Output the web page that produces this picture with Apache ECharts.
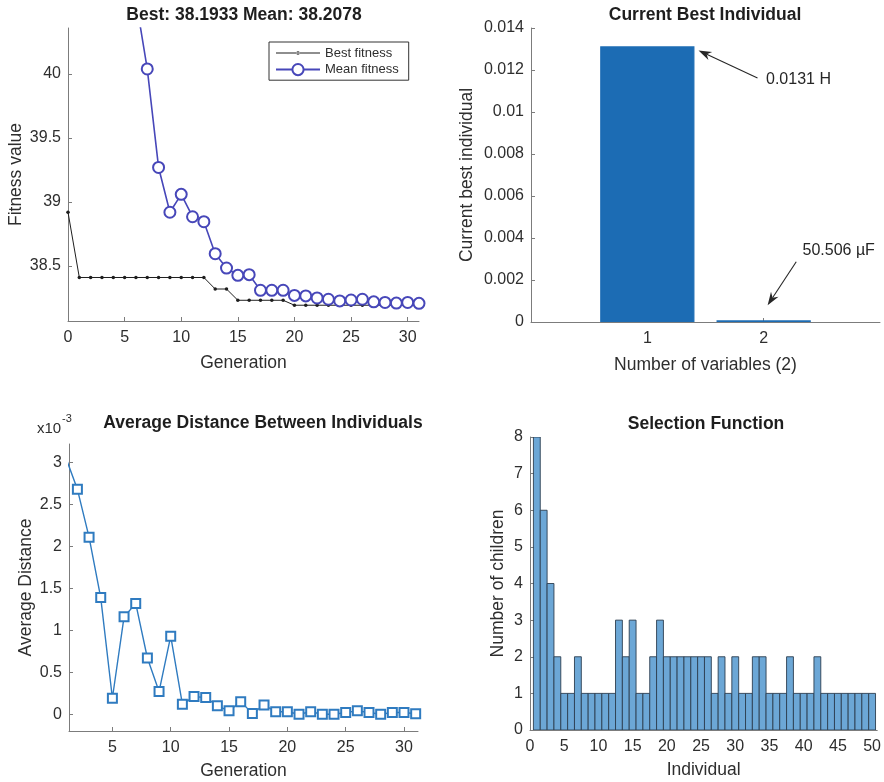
<!DOCTYPE html>
<html>
<head>
<meta charset="utf-8">
<script src="https://cdn.jsdelivr.net/npm/echarts@6/dist/echarts.min.js"></script>
<style>
html,body{margin:0;padding:0;background:#fff;}
#chart{width:884px;height:782px;}
</style>
</head>
<body>
<div id="chart"></div>
<script>
// ---------- data ----------
const generations = [0,1,2,3,4,5,6,7,8,9,10,11,12,13,14,15,16,17,18,19,20,21,22,23,24,25,26,27,28,29,30,31];
const bestFitness = [38.92,38.41,38.41,38.41,38.41,38.41,38.41,38.41,38.41,38.41,38.41,38.41,38.41,38.32,38.32,38.232,38.232,38.232,38.232,38.232,38.1933,38.1933,38.1933,38.1933,38.1933,38.1933,38.1933,38.1933,38.1933,38.1933,38.1933,38.1933];
const meanFitness = [null,null,null,null,null,null,40.58,40.04,39.27,38.92,39.06,38.885,38.846,38.596,38.484,38.427,38.432,38.31,38.31,38.31,38.27,38.266,38.25,38.24,38.227,38.234,38.24,38.22,38.215,38.21,38.215,38.2078];
const fitnessTicks = [38.5,39,39.5,40];
const genTicks = [0,5,10,15,20,25,30];

const variableIndex = [1,2];
const bestIndividual = [0.0131,0.000050506];
const variableTicks = [1,2];
const annotationTexts = ['0.0131 H','50.506 µF'];
const annotationTips = [[1.44,0.01293],[2.034,0.0008]];
const annotationTails = [[1.947,0.01162],[2.28,0.00287]];
const annotationTextPos = [[2.02,0.01153],[2.334,0.00339]];

const distGenerations = [1,2,3,4,5,6,7,8,9,10,11,12,13,14,15,16,17,18,19,20,21,22,23,24,25,26,27,28,29,30,31];
const avgDistance = [0.00306,0.00268,0.00211,0.00139,0.00019,0.00116,0.00132,0.00067,0.00027,0.00093,0.00012,0.00021,0.00020,0.00010,0.00004,0.00015,0.00001,0.00011,0.00003,0.00003,0.0,0.00003,0.0,0.0,0.00002,0.00004,0.00002,0.0,0.00002,0.00002,0.000005];
const distTicksX = [5,10,15,20,25,30];
const distTicksY = [0,0.0005,0.001,0.0015,0.002,0.0025,0.003];

const individuals = [1,2,3,4,5,6,7,8,9,10,11,12,13,14,15,16,17,18,19,20,21,22,23,24,25,26,27,28,29,30,31,32,33,34,35,36,37,38,39,40,41,42,43,44,45,46,47,48,49,50];
const childrenCount = [8,6,4,2,1,1,2,1,1,1, 1,1,3,2,3,1,1,2,3,2, 2,2,2,2,2,2,1,2,1,2, 1,1,2,2,1,1,1,2,1,1, 1,2,1,1,1,1,1,1,1,1];
const individualTicks = [0,5,10,15,20,25,30,35,40,45,50];

// ---------- styles ----------
const FONT = '"Liberation Sans", Arial, Helvetica, sans-serif';
const AXIS_COLOR = '#7c7c7c';
const LABEL_COLOR = '#2e2e2e';
const TICK_FS = 16;
const NAME_FS = 17.5;

function axisCommon(extra) {
  return Object.assign({
    type: 'value',
    axisLine: {show: true, onZero: false, lineStyle: {color: AXIS_COLOR, width: 1}},
    axisTick: {show: true, inside: true, length: 4, lineStyle: {color: AXIS_COLOR}},
    axisLabel: {color: LABEL_COLOR, fontSize: TICK_FS, fontFamily: FONT, margin: 8},
    splitLine: {show: false},
    nameLocation: 'middle',
    nameTextStyle: {color: LABEL_COLOR, fontSize: NAME_FS, fontFamily: FONT},
    scale: true
  }, extra);
}
function ticksAt(values) {
  return {show: true, inside: true, length: 4, lineStyle: {color: AXIS_COLOR}, customValues: values};
}
function labelsAt(values, margin, formatter) {
  const o = {color: LABEL_COLOR, fontSize: TICK_FS, fontFamily: FONT, margin: margin, customValues: values};
  if (formatter) o.formatter = formatter;
  return o;
}

const chart = echarts.init(document.getElementById('chart'), null, {renderer: 'canvas'});

const option = {
  animation: false,
  backgroundColor: '#ffffff',
  textStyle: {fontFamily: FONT},
  grid: [
    {left: 68, top: 28, width: 351, height: 293},
    {left: 531, top: 28, width: 349, height: 294},
    {left: 69, top: 444, width: 349, height: 287},
    {left: 530, top: 437, width: 348, height: 293}
  ],
  xAxis: [
    axisCommon({gridIndex: 0, min: 0, max: 31, name: 'Generation', nameGap: 33,
      axisTick: ticksAt(genTicks), axisLabel: labelsAt(genTicks, 9)}),
    axisCommon({gridIndex: 1, min: 0, max: 3, name: 'Number of variables (2)', nameGap: 34,
      axisTick: ticksAt(variableTicks), axisLabel: labelsAt(variableTicks, 9)}),
    axisCommon({gridIndex: 2, min: 1.28, max: 31.2, name: 'Generation', nameGap: 31,
      axisTick: ticksAt(distTicksX), axisLabel: labelsAt(distTicksX, 9)}),
    axisCommon({gridIndex: 3, min: 0, max: 50.75, name: 'Individual', nameGap: 31,
      axisTick: ticksAt(individualTicks), axisLabel: labelsAt(individualTicks, 9)})
  ],
  yAxis: [
    axisCommon({gridIndex: 0, min: 38.07, max: 40.36, name: 'Fitness value', nameGap: 43,
      axisTick: ticksAt(fitnessTicks), axisLabel: labelsAt(fitnessTicks, 7)}),
    axisCommon({gridIndex: 1, min: 0, max: 0.014, interval: 0.002, name: 'Current best individual', nameGap: 55,
      axisLabel: {color: LABEL_COLOR, fontSize: TICK_FS, fontFamily: FONT, margin: 7}}),
    axisCommon({gridIndex: 2, min: -0.0002, max: 0.00322, name: 'Average Distance', nameGap: 34,
      axisTick: ticksAt(distTicksY),
      axisLabel: labelsAt(distTicksY, 7, v => String(+(v * 1000).toFixed(1)))}),
    axisCommon({gridIndex: 3, min: 0, max: 8, interval: 1, name: 'Number of children', nameGap: 23,
      axisLabel: {color: LABEL_COLOR, fontSize: TICK_FS, fontFamily: FONT, margin: 7}})
  ],
  legend: {
    left: 269, top: 42, orient: 'vertical',
    padding: [4, 10, 4, 6], itemGap: 3, itemWidth: 44, itemHeight: 14,
    borderColor: '#333', borderWidth: 1, backgroundColor: '#fff',
    textStyle: {color: LABEL_COLOR, fontSize: 13, fontFamily: FONT},
    data: [
      {name: 'Best fitness', icon: 'path://M0,0h0.1v0.1h-0.1Z M0,13.9h0.1v0.1h-0.1Z M0,6.6H44V7.4H0Z M20.2,7a1.8,1.8 0 1,0 3.6,0a1.8,1.8 0 1,0 -3.6,0Z'},
      {name: 'Mean fitness'}
    ]
  },
  series: [
    {
      name: 'Best fitness', type: 'line', xAxisIndex: 0, yAxisIndex: 0,
      data: generations.map((g, i) => [g, bestFitness[i]]),
      symbol: 'circle', symbolSize: 3.5, clip: true,
      lineStyle: {color: '#1e1e1e', width: 1},
      itemStyle: {color: '#1e1e1e'}
    },
    {
      name: 'Mean fitness', type: 'line', xAxisIndex: 0, yAxisIndex: 0,
      data: generations.map((g, i) => [g, meanFitness[i]]),
      symbol: 'emptyCircle', symbolSize: 11, clip: true, connectNulls: false,
      lineStyle: {color: '#4747b9', width: 1.6},
      itemStyle: {color: '#4747b9', borderWidth: 1.5}
    },
    {
      name: 'Current best', type: 'custom', xAxisIndex: 1, yAxisIndex: 1,
      data: variableIndex.map((v, i) => [v, bestIndividual[i]]),
      clip: true,
      renderItem: function (params, api) {
        const x = api.value(0), y = api.value(1);
        const p0 = api.coord([x - 0.4, y]);
        const p1 = api.coord([x + 0.4, 0]);
        return {type: 'rect',
          shape: {x: p0[0], y: p0[1], width: p1[0] - p0[0], height: p1[1] - p0[1]},
          style: {fill: '#1c6cb4', stroke: '#1c6cb4', lineWidth: 1.2}};
      }
    },
    {
      name: 'Average distance', type: 'line', xAxisIndex: 2, yAxisIndex: 2,
      data: distGenerations.map((g, i) => [g, avgDistance[i]]),
      symbol: 'emptyRect', symbolSize: 9, clip: true,
      lineStyle: {color: '#2f7bc0', width: 1.4},
      itemStyle: {color: '#2f7bc0', borderWidth: 1.3}
    },
    {
      name: 'Selection', type: 'custom', xAxisIndex: 3, yAxisIndex: 3,
      data: individuals.map((v, i) => [v, childrenCount[i]]),
      clip: true,
      renderItem: function (params, api) {
        const x = api.value(0), y = api.value(1);
        const p0 = api.coord([x - 0.5, y]);
        const p1 = api.coord([x + 0.5, 0]);
        return {type: 'rect',
          shape: {x: p0[0], y: p0[1], width: p1[0] - p0[0], height: p1[1] - p0[1]},
          style: {fill: '#6ca7d6', stroke: '#2d3e50', lineWidth: 0.9}};
      }
    }
  ]
};
chart.setOption(option);

// ---------- titles, annotations ----------
const graphics = [];
function title(text, x, y) {
  graphics.push({type: 'text', x: x, y: y, silent: true,
    style: {text: text, fill: '#1e1e1e', font: 'bold 17.5px ' + FONT, textAlign: 'center', textVerticalAlign: 'middle'}});
}
title('Best: 38.1933 Mean: 38.2078', 244, 15);
title('Current Best Individual', 705, 15);
title('Average Distance Between Individuals', 263, 423);
title('Selection Function', 706, 424);

// exponent label for the distance axis
graphics.push({type: 'text', x: 37, y: 429, silent: true,
  style: {text: 'x10', fill: LABEL_COLOR, font: '15px ' + FONT, textAlign: 'left', textVerticalAlign: 'middle'}});
graphics.push({type: 'text', x: 62, y: 419, silent: true,
  style: {text: '-3', fill: LABEL_COLOR, font: '11px ' + FONT, textAlign: 'left', textVerticalAlign: 'middle'}});

// arrows with text in the top-right panel
for (let i = 0; i < annotationTexts.length; i++) {
  const tip = chart.convertToPixel({gridIndex: 1}, annotationTips[i]);
  const tail = chart.convertToPixel({gridIndex: 1}, annotationTails[i]);
  const tp = chart.convertToPixel({gridIndex: 1}, annotationTextPos[i]);
  const dx = tip[0] - tail[0], dy = tip[1] - tail[1];
  const len = Math.sqrt(dx * dx + dy * dy);
  const ux = dx / len, uy = dy / len;
  const px = -uy, py = ux;
  const L = 13, W = 4.5, N = 9;
  const back = [tip[0] - ux * L, tip[1] - uy * L];
  const notch = [tip[0] - ux * N, tip[1] - uy * N];
  graphics.push({type: 'line', silent: true,
    shape: {x1: tail[0], y1: tail[1], x2: notch[0], y2: notch[1]},
    style: {stroke: '#262626', lineWidth: 1.1}});
  graphics.push({type: 'polygon', silent: true,
    shape: {points: [tip, [back[0] + px * W, back[1] + py * W], notch, [back[0] - px * W, back[1] - py * W]]},
    style: {fill: '#262626'}});
  graphics.push({type: 'text', x: tp[0], y: tp[1], silent: true,
    style: {text: annotationTexts[i], fill: '#262626', font: '16px ' + FONT, textAlign: 'left', textVerticalAlign: 'middle'}});
}
chart.setOption({graphic: graphics});
</script>
</body>
</html>
